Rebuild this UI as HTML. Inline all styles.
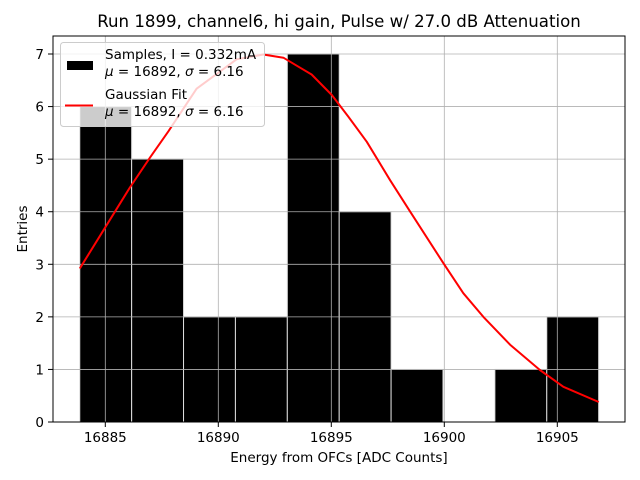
<!DOCTYPE html>
<html><head><meta charset="utf-8"><style>
body{margin:0;background:#fff;}
svg{display:block;font-family:"DejaVu Sans","Liberation Sans",sans-serif;}
</style></head><body>
<svg id="chart" width="640" height="480" viewBox="0 0 640 480" xmlns="http://www.w3.org/2000/svg">
<rect x="0" y="0" width="640" height="480" fill="#fff"/>
<text x="339" y="27" font-size="16.6" text-anchor="middle">Run 1899, channel6, hi gain, Pulse w/ 27.0 dB Attenuation</text>
<g id="bars"></g>
<g id="grid"></g>
<g id="curve"></g>
<rect x="53" y="36" width="572" height="386" fill="none" stroke="#000" stroke-width="1"/>
<g id="xticks"></g>
<g id="yticks"></g>
<text x="339" y="462" font-size="13.5" text-anchor="middle">Energy from OFCs [ADC Counts]</text>
<text transform="translate(27,229) rotate(-90)" font-size="13.5" text-anchor="middle">Entries</text>
<g>
<rect x="60.5" y="42.5" width="204" height="84" rx="3" fill="rgba(255,255,255,0.8)" stroke="#ccc"/>
<rect x="67" y="61" width="26" height="9" fill="#000"/>
<text x="105" y="59" font-size="13.5">Samples, I = 0.332mA</text>
<text x="105" y="76" font-size="13.5"><tspan font-style="italic">μ</tspan> = 16892, <tspan font-style="italic">σ</tspan> = 6.16</text>
<line x1="65" y1="105.5" x2="93" y2="105.5" stroke="#f00" stroke-width="2"/>
<text x="105" y="99" font-size="13.5">Gaussian Fit</text>
<text x="105" y="116" font-size="13.5"><tspan font-style="italic">μ</tspan> = 16892, <tspan font-style="italic">σ</tspan> = 6.16</text>
</g>
</svg>
<script>
const binStart = 16883.87;
const binWidth = 2.296;
const counts = [6,5,2,2,7,4,1,0,1,2];
const fitX = [16883.87,16886.09,16886.98,16887.79,16889.04,16890.81,16891.99,16892.88,16893.62,16894.13,16895.02,16895.75,16896.57,16897.60,16898.49,16899.96,16900.84,16901.73,16902.91,16904.23,16905.27,16906.83];
const fitY = [2.92,4.46,5.03,5.53,6.34,6.90,6.99,6.93,6.74,6.61,6.22,5.81,5.33,4.60,4.00,3.02,2.45,2.00,1.47,0.99,0.67,0.38];
const xTicks = [16885,16890,16895,16900,16905];
const yTicks = [0,1,2,3,4,5,6,7];
const NS="http://www.w3.org/2000/svg";
const xs = v => 105.3 + (v-16885)*22.6;
const ys = v => 422 - v*52.57;
function mk(t,a,p){const e=document.createElementNS(NS,t);for(const k in a)e.setAttribute(k,a[k]);p.appendChild(e);return e;}
const bars=document.getElementById('bars');
counts.forEach((c,i)=>{ if(c<=0) return;
  const x0=xs(binStart+i*binWidth), x1=xs(binStart+(i+1)*binWidth);
  const r=mk('rect',{x:x0,y:ys(c),width:x1-x0,height:ys(0)-ys(c),fill:'#000',stroke:'#ddd','stroke-width':1},bars);
  
  
});
const grid=document.getElementById('grid'), xt=document.getElementById('xticks'), yt=document.getElementById('yticks');
xTicks.forEach(v=>{const x=xs(v);
  const g=mk('line',{x1:x,y1:36,x2:x,y2:422,stroke:'#b0b0b0','stroke-width':0.8},grid);
   
  const t=mk('line',{x1:x,y1:422,x2:x,y2:427,stroke:'#000'},xt);
   
  const l=mk('text',{x:x,y:442,'font-size':13.5,'text-anchor':'middle'},xt); l.textContent=v;
   
});
yTicks.forEach(v=>{const y=ys(v);
  const g=mk('line',{x1:53,y1:y,x2:625,y2:y,stroke:'#b0b0b0','stroke-width':0.8},grid);
   
  const t=mk('line',{x1:48,y1:y,x2:53,y2:y,stroke:'#000'},yt);
   
  const l=mk('text',{x:44,y:y+5,'font-size':13.5,'text-anchor':'end'},yt); l.textContent=v;
   
});
const pts=fitX.map((v,i)=>xs(v).toFixed(1)+','+ys(fitY[i]).toFixed(1)).join(' ');
const pl=mk('polyline',{points:pts,fill:'none',stroke:'#f00','stroke-width':2,'stroke-linejoin':'round'},document.getElementById('curve'));


</script>
</body></html>
